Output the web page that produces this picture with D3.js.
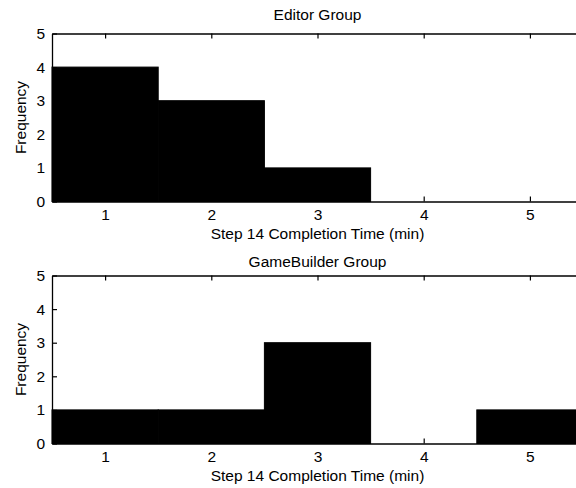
<!DOCTYPE html>
<html>
<head>
<meta charset="utf-8">
<script src="https://cdn.jsdelivr.net/npm/d3@7"></script>
<style>
  html, body { margin: 0; padding: 0; background: #fff; }
  svg { display: block; }
  text { font-family: "Liberation Sans", Arial, Helvetica, sans-serif; fill: #000; }
</style>
</head>
<body>
<svg id="chart" width="576" height="488"></svg>
<script>
// ---- data ----
const categories = [1, 2, 3, 4, 5];
const editorCounts = [4, 3, 1, 0, 0];
const gameBuilderCounts = [1, 1, 3, 0, 1];
const xTicks = [1, 2, 3, 4, 5];
const yTicks = [0, 1, 2, 3, 4, 5];
const titles = ["Editor Group", "GameBuilder Group"];
const xLabel = "Step 14 Completion Time (min)";
const yLabel = "Frequency";

// ---- layout ----
const svg = d3.select("#chart");
const left = 52, right = 583;
const panels = [
  { top: 33.5, bottom: 201.5, titleY: 20, values: editorCounts, title: titles[0] },
  { top: 275.5, bottom: 443.5, titleY: 266.5, values: gameBuilderCounts, title: titles[1] }
];
const fontSize = 15.5;
const tickLen = 5;

const x = d3.scaleLinear().domain([0.5, 5.5]).range([left, right]);

panels.forEach(p => {
  const y = d3.scaleLinear().domain([0, 5]).range([p.bottom, p.top]);
  const g = svg.append("g");

  // bars
  g.selectAll("rect.bar")
    .data(categories.map((c, i) => ({ c, v: p.values[i] })))
    .join("rect")
    .attr("class", "bar")
    .attr("x", d => x(d.c - 0.5))
    .attr("width", d => x(d.c + 0.5) - x(d.c - 0.5))
    .attr("y", d => y(d.v))
    .attr("height", d => y(0) - y(d.v))
    .attr("fill", "#000")
    .attr("stroke", "#000")
    .attr("stroke-width", 1);

  // axes (MATLAB style: inward ticks, box)
  const xBottom = d3.axisBottom(x).tickValues(xTicks).tickSizeInner(-tickLen).tickSizeOuter(0).tickPadding(7).tickFormat(d3.format("d"));
  const xTop = d3.axisTop(x).tickValues(xTicks).tickSizeInner(-tickLen).tickSizeOuter(0).tickFormat("");
  const yLeft = d3.axisLeft(y).tickValues(yTicks).tickSizeInner(-tickLen).tickSizeOuter(0).tickPadding(7).tickFormat(d3.format("d"));

  const gb = g.append("g").attr("transform", `translate(0,${p.bottom})`).call(xBottom);
  const gt = g.append("g").attr("transform", `translate(0,${p.top})`).call(xTop);
  const gl = g.append("g").attr("transform", `translate(${left},0)`).call(yLeft);

  [gb, gt, gl].forEach(a => {
    a.select(".domain").attr("stroke", "#000").attr("stroke-width", 1.3);
    a.selectAll(".tick line").attr("stroke", "#000").attr("stroke-width", 1.2);
    a.selectAll(".tick text")
      .style("font-family", '"Liberation Sans", Arial, sans-serif')
      .style("font-size", fontSize + "px")
      .attr("fill", "#000");
  });

  // title
  g.append("text")
    .attr("x", (left + right) / 2)
    .attr("y", p.titleY)
    .attr("text-anchor", "middle")
    .style("font-size", fontSize + "px")
    .text(p.title);

  // x label
  g.append("text")
    .attr("x", (left + right) / 2)
    .attr("y", p.bottom + 37)
    .attr("text-anchor", "middle")
    .style("font-size", fontSize + "px")
    .text(xLabel);

  // y label
  g.append("text")
    .attr("transform", `translate(${left - 26},${(p.top + p.bottom) / 2}) rotate(-90)`)
    .attr("text-anchor", "middle")
    .style("font-size", fontSize + "px")
    .text(yLabel);
});
</script>
</body>
</html>
